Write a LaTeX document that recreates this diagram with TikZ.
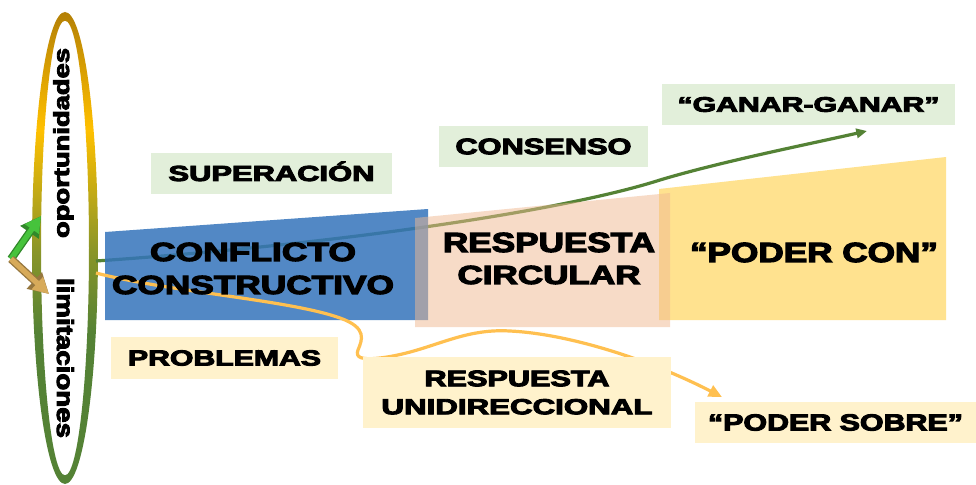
\documentclass[tikz,border=0pt]{standalone}
\usepackage{fontspec}
\usepackage{graphicx}
\setmainfont{Liberation Sans}
\newfontfamily\heavy[FakeBold=4]{Liberation Sans Bold}
\usetikzlibrary{arrows.meta}
\newlength\px \setlength\px{0.75pt}
\newcommand\fitt[3]{\resizebox{#1\px}{#2\px}{\heavy\raisebox{0pt}[\fontcharht\font`H][0pt]{#3}}}
\definecolor{ringgreen}{RGB}{84,130,53}
\definecolor{ringolive}{RGB}{140,150,40}
\definecolor{ringgold}{RGB}{255,192,0}
\definecolor{ringtop}{RGB}{180,128,5}
\definecolor{lblgreen}{RGB}{226,239,218}
\definecolor{lblyellow}{RGB}{255,242,204}
\definecolor{bluebox}{RGB}{52,116,187}
\definecolor{peachbox}{RGB}{240,185,145}
\definecolor{yellowbox}{RGB}{255,226,143}
\definecolor{gline}{RGB}{84,130,53}
\definecolor{uline}{RGB}{255,192,80}
\definecolor{arrgreen}{RGB}{70,195,60}
\definecolor{arrgold}{RGB}{215,170,90}
\pgfdeclareverticalshading{ringshade}{100bp}{color(0bp)=(ringgreen); color(25bp)=(ringgreen); color(41bp)=(ringgreen); color(50bp)=(ringolive); color(62.5bp)=(ringgold); color(75bp)=(ringtop); color(100bp)=(ringtop)}
\tikzset{
  greenlbl/.style={fill=lblgreen, inner sep=0pt},
  yellowlbl/.style={fill=lblyellow, inner sep=0pt},
  bigtext/.style={inner sep=0pt, align=center},
  ringtext/.style={inner sep=0pt},
  glinestyle/.style={draw=gline, line width=2.4pt, -{Triangle[length=8pt,width=7pt]}},
  ulinestyle/.style={draw=uline, line width=2.4pt, -{Triangle[length=10pt,width=9pt]}},
}
\begin{document}
\begin{tikzpicture}[x=0.75pt,y=-0.75pt]
\useasboundingbox (0,0) rectangle (976,485);
\fill[white] (0,0) rectangle (976,485);
% ring
\coordinate (ec) at (65,248);
\shade[shading=ringshade, even odd rule] (ec) ellipse [x radius=24.75pt, y radius=177pt] (ec) ellipse [x radius=18pt, y radius=170.5pt];
\node[ringtext, rotate=90] (opo) at (61.5,143) {\fitt{190}{15}{oportunidades}};
\node[ringtext, rotate=-90] (lim) at (65,358) {\fitt{160}{16}{limitaciones}};
% small arrows
\coordinate (ao) at (11,259);
\coordinate (aup) at (41,216);
\coordinate (adn) at (49,294);
\draw[arrgreen!70!black, line width=6pt, -{Triangle[length=15pt,width=16pt]}] (ao) -- (aup);
\draw[arrgreen, line width=4pt, -{Triangle[length=12pt,width=12pt]}] (ao) -- (aup);
\draw[arrgold!70!black, line width=6pt, -{Triangle[length=15pt,width=16pt]}] (ao) -- (adn);
\draw[arrgold, line width=4pt, -{Triangle[length=12pt,width=12pt]}] (ao) -- (adn);
% green connector
\coordinate (gs) at (96,261);
\coordinate (ge) at (867,131);
\draw[glinestyle] (gs) .. controls (330,245) and (560,212) .. (660,180) .. controls (720,162) and (800,146) .. (ge);
% shapes
\fill[yellowbox] (659,189) -- (946,157) -- (946,320) -- (659,320) -- cycle;
\fill[bluebox, fill opacity=0.85] (105,232) -- (428,209) -- (428,320) -- (105,320) -- cycle;
% gold connector
\coordinate (us) at (96,273);
\coordinate (ue) at (722,397);
\draw[ulinestyle] (us) .. controls (170,292) and (290,300) .. (340,318) .. controls (368,328) and (362,340) .. (358,350) .. controls (355,358) and (362,360) .. (380,358) .. controls (430,352) and (460,328) .. (510,331) .. controls (570,334) and (650,360) .. (ue);
\fill[peachbox, fill opacity=0.5] (415,218) -- (670,193) -- (670,327) -- (415,327) -- cycle;
% big texts
\node[bigtext, font=\fontsize{12pt}{24.75pt}\selectfont] (conf) at (253,268.5) {\fitt{206}{18}{CONFLICTO}\\\fitt{282}{18}{CONSTRUCTIVO}};
\node[bigtext, font=\fontsize{12pt}{24pt}\selectfont] (circ) at (549,258.5) {\fitt{212}{19}{RESPUESTA}\\\fitt{183}{18}{CIRCULAR}};
\node[bigtext] (con) at (814,252.5) {\fitt{248}{19}{“PODER CON”}};
% labels
\node[greenlbl, minimum width=241\px, minimum height=41\px] (sup) at (271.5,173.5) {\fitt{206}{15}{SUPERACIÓN}};
\node[greenlbl, minimum width=209\px, minimum height=41\px] (cons) at (543.5,146.5) {\fitt{176}{15.5}{CONSENSO}};
\node[greenlbl, minimum width=293\px, minimum height=41\px] (gan) at (808.5,104.5) {\fitt{262}{14.5}{“GANAR-GANAR”}};
\node[yellowlbl, minimum width=227\px, minimum height=42\px] (prob) at (224.5,358) {\fitt{193}{15}{PROBLEMAS}};
\node[yellowlbl, align=center, font=\fontsize{12pt}{21pt}\selectfont, minimum width=308\px, minimum height=71\px] (uni) at (517,392.5) {\fitt{185}{15.5}{RESPUESTA}\\\fitt{271}{15}{UNIDIRECCIONAL}};
\node[yellowlbl, minimum width=281\px, minimum height=41\px] (sob) at (835.5,422.5) {\fitt{255}{16}{“PODER SOBRE”}};
\end{tikzpicture}
\end{document}
